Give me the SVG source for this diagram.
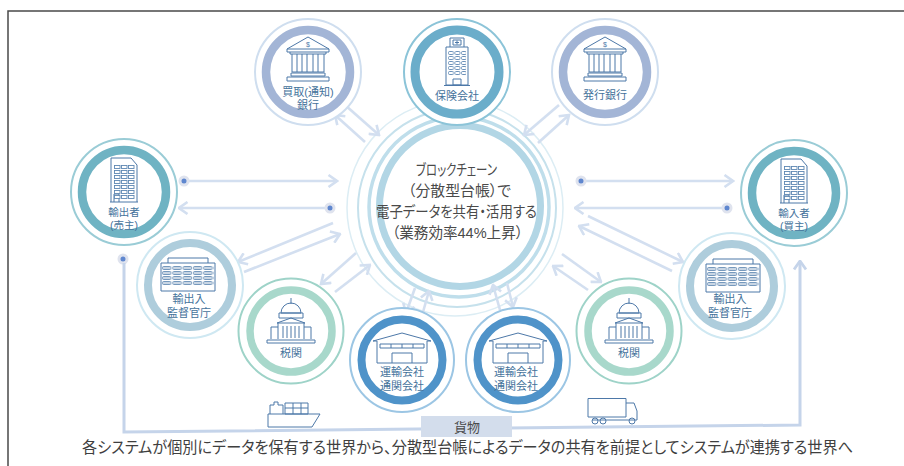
<svg xmlns="http://www.w3.org/2000/svg" xmlns:xlink="http://www.w3.org/1999/xlink" width="904" height="466" viewBox="0 0 904 466">
<style>
text{font-family:"Liberation Sans","Noto Sans CJK JP",sans-serif;font-feature-settings:"palt"}
.lb{font-size:11px;fill:#44729b;text-anchor:middle}
.ct{font-size:15px;fill:#4a4a4a}
.ic{fill:none;stroke:#4d78a8;stroke-width:1}
.cn{fill:none;stroke:#d3dff0;stroke-width:2.6}
.cf{fill:none;stroke:#c5d4ea;stroke-width:3}
.dot{fill:#5f87cf;stroke:#dfe3ee;stroke-width:3}
.o{fill:#fff;stroke-width:2}
.r{fill:#fff}
</style>
<defs>
<marker id="ah" viewBox="0 0 12 14" refX="10.5" refY="7" markerWidth="12" markerHeight="14" markerUnits="userSpaceOnUse" orient="auto"><path d="M2 1L10.5 7L2 13" fill="none" stroke="#d3dff0" stroke-width="2.6"/></marker>
<marker id="ah2" viewBox="0 0 12 14" refX="10.5" refY="7" markerWidth="12" markerHeight="14" markerUnits="userSpaceOnUse" orient="auto"><path d="M2 1L10.5 7L2 13" fill="none" stroke="#c5d4ea" stroke-width="2.8"/></marker>
<pattern id="w1" patternUnits="userSpaceOnUse" x="-9" y="-21" width="6.5" height="5"><rect x=".5" y=".5" width="5" height="3" rx="1" fill="#fff" stroke="#5f88b3" stroke-width=".9"/></pattern>
<pattern id="w2" patternUnits="userSpaceOnUse" x="-10" y="-27" width="7" height="5"><rect x=".5" y=".5" width="5.500" height="3" fill="#fff" stroke="#5f88b3" stroke-width=".9"/></pattern>
<pattern id="w3" patternUnits="userSpaceOnUse" x="-26" y="-19" width="10.300" height="5"><rect x=".5" y=".5" width="8.500" height="3" rx="1" fill="#c9d6e4" stroke="#5f88b3" stroke-width=".8"/></pattern>
<g id="bank" class="ic"><path d="M-21 -23L0 -35L21 -23Z M-21 -23V-20H21V-23 M-18 -20V-18H18V-20 M-16 -18V0H16V-18 M-11 -18V0M-6 -18V0M-1 -18V0M5 -18V0M10 -18V0 M-17 1H17V4H-17Z M-21 5H21V9H-21Z"/><text x="0" y="-25" font-size="7" fill="#4d78a8" stroke="none" text-anchor="middle">$</text></g>
<g id="tower" class="ic"><path d="M-7 -25V-34H7V-25M-4 -32H4V-27H-4ZM-2 -29.500H2M0 -31.500V-27.500M-11 -25H11V13H-11ZM-4 7H4V13H-4ZM-13 13.500H13"/><rect x="-9" y="-21" width="18" height="25" fill="url(#w1)" stroke="none"/></g>
<g id="office" class="ic"><path d="M-13 10V-34H7L13 -27V10M-14 10H14M-10 10V2H-5V10"/><rect x="-10" y="-27" width="21" height="35" fill="url(#w2)" stroke="none"/></g>
<g id="gov" class="ic"><path d="M-20 -22V-27H20V-22M-27 -22H27V6H-27Z"/><rect x="-26" y="-19" width="52" height="20" fill="url(#w3)" stroke="none"/></g>
<g id="dome" class="ic"><path d="M0 -33V-27M-10 -18A10 10 0 0 1 10 -18ZM-12 -18H12V-13H-12ZM-14 -8L0 -13L14 -8ZM-13 -8V8M13 -8V8M-13 -4H-20V8M13 -4H20V8M-24 9H24V12H-24ZM-8 -5V7M-4 -5V7M0 -5V7M4 -5V7M8 -5V7"/></g>
<g id="ware" class="ic"><path d="M-29 -11L0 -19L29 -11H25V11H-25V-11H-29Z M-22 -8H22V-4H-22Z M-10 11V1H10V11 M-11 -8V-4M0 -8V-4M11 -8V-4"/></g>
</defs>
<rect width="904" height="466" fill="#fff"/>
<path d="M8 466V11H904" fill="none" stroke="#4a4a4a" stroke-width="1.5"/>
<g id="hub">
<circle cx="455" cy="208" r="108" fill="none" stroke="#dcedf4" stroke-width="1.5"/>
<circle cx="457" cy="208" r="99" fill="none" stroke="#c6e1ec" stroke-width="2"/>
<circle cx="459" cy="207" r="90" fill="none" stroke="#bfdeeb" stroke-width="3.500"/>
<circle cx="460" cy="206" r="80.500" fill="#fff" stroke="#b2d6e5" stroke-width="7"/>
<text class="ct" x="416" y="175" textLength="81" lengthAdjust="spacingAndGlyphs">ブロックチェーン</text>
<text class="ct" x="408" y="196" textLength="103" lengthAdjust="spacingAndGlyphs">（分散型台帳）で</text>
<text class="ct" x="376" y="217" textLength="161" lengthAdjust="spacingAndGlyphs">電子データを共有・活用する</text>
<text class="ct" x="392" y="238" textLength="131" lengthAdjust="spacingAndGlyphs">（業務効率44%上昇）</text>
</g>
<g id="connectors">
<path class="cn" marker-end="url(#ah)" d="M345 105L379 135"/>
<path class="cn" marker-end="url(#ah)" d="M365 142L335 115"/>
<path class="cn" marker-end="url(#ah)" d="M559 105L524 135"/>
<path class="cn" marker-end="url(#ah)" d="M538 143L569 115"/>
<path class="cn" marker-end="url(#ah)" d="M187 181H337"/>
<path class="cn" marker-end="url(#ah)" d="M330 208H179"/>
<path class="cn" marker-end="url(#ah)" d="M333 223L238 262"/>
<path class="cn" marker-end="url(#ah)" d="M244 272L340 234"/>
<path class="cn" marker-end="url(#ah)" d="M356 253L321 284"/>
<path class="cn" marker-end="url(#ah)" d="M335 292L370 265"/>
<path class="cn" marker-end="url(#ah)" d="M415 288L406 313"/>
<path class="cn" marker-end="url(#ah)" d="M423 312L429 291"/>
<path class="cn" marker-end="url(#ah)" d="M500 310L493 285"/>
<path class="cn" marker-end="url(#ah)" d="M507 283L513 307"/>
<path class="cn" marker-end="url(#ah)" d="M562 254L601 282"/>
<path class="cn" marker-end="url(#ah)" d="M588 290L553 266"/>
<path class="cn" marker-end="url(#ah)" d="M588 216L683 262"/>
<path class="cn" marker-end="url(#ah)" d="M672 271L579 226"/>
<path class="cn" marker-end="url(#ah)" d="M581 181H733"/>
<path class="cn" marker-end="url(#ah)" d="M727 208H575"/>
<circle class="dot" cx="184" cy="181" r="4"/>
<circle class="dot" cx="330" cy="208" r="4"/>
<circle class="dot" cx="581" cy="181" r="4"/>
<circle class="dot" cx="727" cy="208" r="4"/>
<circle class="dot" cx="123" cy="259" r="4"/>
<path class="cf" marker-end="url(#ah2)" d="M124 263V432L800 425V261"/>
</g>
<g id="n1"><circle class="o" cx="308" cy="72" r="53" stroke="#cfdeef"/><circle class="r" cx="308" cy="72" r="42" stroke="#a3b5d6" stroke-width="8.500"/><use xlink:href="#bank" x="308" y="72"/><text class="lb" x="308" y="96">買取(通知)</text><text class="lb" x="308" y="109">銀行</text></g>
<g id="n2"><circle class="o" cx="457" cy="72" r="53" stroke="#8cc4d8"/><circle class="r" cx="457" cy="72" r="42" stroke="#6badca" stroke-width="9"/><use xlink:href="#tower" x="457" y="72"/><text class="lb" x="457" y="100">保険会社</text></g>
<g id="n3"><circle class="o" cx="605" cy="72" r="53" stroke="#cfdeef"/><circle class="r" cx="605" cy="72" r="42" stroke="#a3b5d6" stroke-width="8.500"/><use xlink:href="#bank" x="605" y="72"/><text class="lb" x="605" y="99">発行銀行</text></g>
<g id="n4"><circle class="o" cx="124" cy="192" r="53" stroke="#9accd6"/><circle class="r" cx="124" cy="192" r="42" stroke="#6fb3c3" stroke-width="8.500"/><use xlink:href="#office" x="124" y="192"/><text class="lb" x="124" y="216" style="font-size:10.500px">輸出者</text><text class="lb" x="124" y="229" style="font-size:10.500px">(売主)</text></g>
<g id="n5"><circle class="o" cx="190" cy="285" r="53" stroke="#cfe8f2"/><circle class="r" cx="190" cy="285" r="42" stroke="#aecddc" stroke-width="8"/><use xlink:href="#gov" x="188" y="285"/><text class="lb" x="189" y="303">輸出入</text><text class="lb" x="189" y="317">監督官庁</text></g>
<g id="n6"><circle class="o" cx="291" cy="331" r="52.500" stroke="#9ed3c8"/><circle class="r" cx="291" cy="331" r="41" stroke="#a8d8cb" stroke-width="7.500"/><use xlink:href="#dome" x="291" y="331"/><text class="lb" x="291" y="357">税関</text></g>
<g id="n7"><circle class="o" cx="402" cy="360" r="52" stroke="#9cc6e4"/><circle class="r" cx="402" cy="360" r="40.500" stroke="#4f93c9" stroke-width="8"/><use xlink:href="#ware" x="402" y="352"/><text class="lb" x="402" y="376">運輸会社</text><text class="lb" x="402" y="390">通関会社</text></g>
<g id="n8"><circle class="o" cx="518" cy="360" r="52" stroke="#9cc6e4"/><circle class="r" cx="518" cy="360" r="40.500" stroke="#4f93c9" stroke-width="8"/><use xlink:href="#ware" x="518" y="352"/><text class="lb" x="516" y="376">運輸会社</text><text class="lb" x="516" y="390">通関会社</text></g>
<g id="n9"><circle class="o" cx="629" cy="331" r="52.500" stroke="#9ed3c8"/><circle class="r" cx="629" cy="331" r="41" stroke="#a8d8cb" stroke-width="7.500"/><use xlink:href="#dome" x="629" y="331"/><text class="lb" x="629" y="357">税関</text></g>
<g id="n10"><circle class="o" cx="732" cy="286" r="53" stroke="#cfe8f2"/><circle class="r" cx="732" cy="286" r="42" stroke="#aecddc" stroke-width="8"/><use xlink:href="#gov" x="733" y="286"/><text class="lb" x="730" y="303">輸出入</text><text class="lb" x="730" y="317">監督官庁</text></g>
<g id="n11"><circle class="o" cx="794" cy="193" r="53" stroke="#9accd6"/><circle class="r" cx="794" cy="193" r="42" stroke="#6fb3c3" stroke-width="8.500"/><use xlink:href="#office" x="794" y="193"/><text class="lb" x="794" y="217" style="font-size:10.500px">輸入者</text><text class="lb" x="794" y="230" style="font-size:10.500px">(買主)</text></g>
<g id="ship" class="ic"><path d="M268 414H320L312 427H268ZM270 414V405H274V402H278V405H283V414M285 403H308V414H285ZM293 403V414M301 403V414M285 408H308"/></g>
<g id="truck" class="ic"><path d="M588 398.500H626V417H588ZM626 403H634L637 411V420H592"/><circle cx="595" cy="421" r="3"/><circle cx="603" cy="421" r="3"/><circle cx="632" cy="421" r="3"/></g>
<g id="cargo"><rect x="421" y="416" width="91" height="21" fill="#d3ddec"/><text x="467" y="432" font-size="13" fill="#4a4a4a" text-anchor="middle">貨物</text></g>
<text x="82" y="453" font-size="16" fill="#3f3f3f" textLength="771" lengthAdjust="spacingAndGlyphs">各システムが個別にデータを保有する世界から、分散型台帳によるデータの共有を前提としてシステムが連携する世界へ</text>
</svg>
